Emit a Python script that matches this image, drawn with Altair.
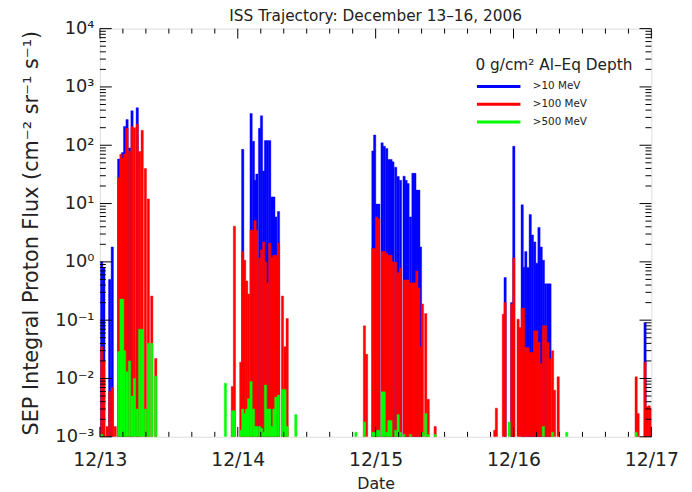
import altair as alt
import pandas as pd

# Hours since 2006-12-13 00:00 UT (bin centres)
hours = [
    0.31, 0.69, 1.26, 1.70, 2.15, 2.67, 3.27, 3.66, 3.96, 4.30, 4.73, 5.16, 5.59, 6.02, 6.50, 6.93, 7.36, 7.91, 8.43, 9.03, 9.72,
    21.85, 23.05, 23.42, 24.52, 24.86, 25.20, 25.55, 25.89, 26.32, 26.72, 27.01, 27.32, 27.79, 28.13, 28.51, 28.82, 29.17, 29.56, 29.94, 30.28, 30.62, 31.09, 31.78, 32.22, 32.60, 34.10,
    44.56, 46.05, 46.42, 47.52, 47.83, 48.17, 48.55, 49.12, 49.50, 49.93, 50.29, 50.67, 51.01, 51.49, 51.92, 52.33, 52.95, 53.30, 53.64, 54.07, 54.49, 54.83, 55.17, 55.52, 55.81, 56.15, 56.72, 57.15, 58.36,
    68.73, 69.02, 70.23, 70.54, 71.23, 71.69, 72.05, 72.80, 73.13, 73.51, 73.76, 74.14, 74.54, 74.91, 75.28, 75.69, 76.05, 76.43, 76.82, 77.20, 77.58, 77.98, 78.35, 78.80, 79.14, 79.78, 81.26,
    93.35, 93.69, 94.90, 95.21, 95.62, 95.96,
]
N = None
flux_10 = [
    1.0, 0.8, N, 0.5, 1.8, N, 58, N, 75, 210, 275, 90, 390, N, 440, N, N, N, N, N, N,
    N, N, N, N, 85, N, N, N, 350, 117, 25, 32, 195, 320, 36, 120, 120, 120, 13, 13, 5.9, 7.3, N, N, N, N,
    N, N, N, 80, 150, 9.8, 9.8, 110, 96, 88, 57, 57, 52, 42, 29, 25, 29.5, 25, 22, 5.9, 33, 33, 17, 17, 1.8, N, N, N, N,
    N, N, N, 0.54, N, 0.2, 96, N, N, 9.5, 0.81, 1.5, 0.8, 6.5, 2.9, 2.2, 0.95, 3.9, 1.8, 1.07, 0.42, 0.42, 0.42, N, N, N, N,
    N, N, 0.091, N, N, N,
]
flux_100 = [
    0.035, 0.02, 0.0015, 0.006, 0.007, 0.0015, 28, 70, 60, 71, 195, 78, 210, 200, 230, 78, 180, 40, 12, 0.26, 0.022,
    N, 0.0073, 4.1, 0.019, 1.5, 1.07, 0.47, 0.28, 3.5, 3.5, 5.1, 3.5, 1.17, 1.6, 2.2, 1.0, 0.44, 2.1, 1.2, 1.3, 1.3, 2.1, 0.26, 0.035, 0.107, N,
    N, 0.08, 0.026, 1.7, 1.7, 5.9, 5.5, 1.5, 1.5, 1.4, 1.3, 1.3, 1.0, 0.98, 0.65, 0.78, 0.49, 0.49, 0.49, 0.44, 0.44, 0.44, 0.69, 0.36, 0.035, 0.19, 0.13, 0.0044, 0.0015,
    0.0013, 0.0031, 0.126, 0.2, N, 0.19, 1.17, 0.104, 0.075, 0.16, 0.16, 0.034, 0.034, 0.028, 0.028, 0.066, 0.066, 0.042, 0.018, 0.08, 0.08, 0.042, 0.022, 0.03, 0.0063, 0.0107, N,
    0.0107, 0.0025, 0.019, 0.0033, 0.0034, 0.003,
]
flux_500 = [
    0.0011, N, N, N, N, N, 0.029, 0.23, 0.23, 0.03, 0.013, 0.02, 0.005, 0.01, 0.003, 0.07, 0.07, 0.003, 0.04, 0.04, 0.011,
    0.0083, 0.0028, 0.0028, 0.0013, 0.003, 0.0025, 0.003, 0.0045, 0.0089, 0.003, 0.0015, 0.0015, 0.0015, 0.0014, 0.0012, 0.0077, 0.003, 0.003, 0.0015, 0.003, 0.0048, 0.0052, 0.0065, 0.0065, 0.0015, 0.0024,
    0.0012, 0.0018, N, 0.0012, 0.0012, 0.0013, 0.0013, 0.0059, 0.0059, 0.0012, 0.0019, 0.0019, N, 0.0013, 0.0024, 0.0012, 0.0011, N, N, 0.0011, N, N, N, N, N, 0.0012, 0.0025, 0.0011, 0.0011,
    N, N, N, N, 0.0018, N, N, N, N, N, N, N, N, N, N, N, N, N, N, 0.0015, N, N, N, 0.0012, N, N, 0.0012,
    0.0012, N, N, N, N, N,
]

series_names = [">10 MeV", ">100 MeV", ">500 MeV"]
series_colors = ["#0000ff", "#ff0000", "#00ff00"]
day_labels = ["12/13", "12/14", "12/15", "12/16", "12/17"]
day_hours = [0, 24, 48, 72, 96]
y_major = [1e-3, 1e-2, 1e-1, 1e0, 1e1, 1e2, 1e3, 1e4]
y_minor = [m * 10.0 ** k for k in range(-3, 4) for m in range(2, 10)]
x_minor = [h for h in range(4, 96, 4) if h % 24 != 0]

half_w = 0.2
rows = []
for name, vals in zip(series_names, [flux_10, flux_100, flux_500]):
    for h, v in zip(hours, vals):
        if v is not None:
            rows.append({"series": name, "t0": h - half_w, "t1": h + half_w, "flux": v})
df = pd.DataFrame(rows)

W, H = 558, 413
FONT = "DejaVu Sans"
TXT = "#222222"
X_TITLE = "Date"
Y_TITLE = "SEP Integral Proton Flux (cm⁻² sr⁻¹ s⁻¹)"

xscale = alt.Scale(domain=[0, 96], nice=False, zero=False)
yscale = alt.Scale(type="log", domain=[1e-3, 1e4], nice=False, clamp=True)

label_js = "{" + ",".join(f"'{h}':'{l}'" for h, l in zip(day_hours, day_labels)) + "}"

x_axis = alt.Axis(values=day_hours, labelExpr=f"{label_js}[datum.value]", ticks=False, domain=False,
                  grid=False, labelFlush=False, labelFont=FONT, labelFontSize=19, labelColor=TXT,
                  labelPadding=14, titleFont=FONT, titleFontSize=16, titleFontWeight="normal",
                  titleColor=TXT, titlePadding=6)
y_axis = alt.Axis(values=y_major,
                  labelExpr="['10⁻³','10⁻²','10⁻¹','10⁰','10¹','10²','10³','10⁴'][round(log(datum.value)/LN10)+3]",
                  ticks=False, domain=False, grid=False, labelFlush=False, labelFont=FONT, labelFontSize=18,
                  labelColor=TXT, labelPadding=6, titleFont=FONT, titleFontSize=21, titleFontWeight="normal",
                  titleColor=TXT, titlePadding=14)

legend = alt.Legend(
    title="0 g/cm² Al–Eq Depth", orient="none", legendX=380, legendY=30,
    titleFont=FONT, titleFontSize=15.5, titleFontWeight="normal", titleColor=TXT, titlePadding=4,
    labelFont=FONT, labelFontSize=10.5, labelColor=TXT, labelOffset=11,
    symbolType="stroke", symbolSize=1936, symbolStrokeWidth=3, rowPadding=0, clipHeight=18,
)
color_scale = alt.Scale(domain=series_names, range=series_colors)

bars = alt.Chart(df).mark_bar(strokeWidth=0.4, clip=True).encode(
    x=alt.X("t0:Q", scale=xscale, title=X_TITLE, axis=x_axis),
    x2="t1:Q",
    y=alt.Y("flux:Q", scale=yscale, stack=None, title=Y_TITLE, axis=y_axis),
    y2=alt.datum(1e-3),
    fill=alt.Color("series:N", scale=color_scale, legend=legend, sort=series_names),
    stroke=alt.Color("series:N", scale=color_scale, legend=legend, sort=series_names),
    order=alt.Order("order:Q"),
).transform_calculate(order=f"indexof({series_names}, datum.series)")

ymaj_df = pd.DataFrame({"v": y_major})
ymin_df = pd.DataFrame({"v": y_minor})
xmaj_df = pd.DataFrame({"h": day_hours})
xmin_df = pd.DataFrame({"h": x_minor})


def yticks(d, length):
    base = alt.Chart(d).mark_rule(color="black", strokeWidth=1)
    yenc = alt.Y("v:Q", scale=yscale, title=Y_TITLE, axis=y_axis)
    left = base.encode(y=yenc, x=alt.value(0), x2=alt.value(length))
    right = base.encode(y=yenc, x=alt.value(W), x2=alt.value(W - length))
    return [left, right]


def xticks(d, length):
    base = alt.Chart(d).mark_rule(color="black", strokeWidth=1)
    xenc = alt.X("h:Q", scale=xscale, title=X_TITLE, axis=x_axis)
    bottom = base.encode(x=xenc, y=alt.value(H), y2=alt.value(H - length))
    top = base.encode(x=xenc, y=alt.value(0), y2=alt.value(length))
    return [bottom, top]


layers = [bars] + yticks(ymaj_df, 12) + yticks(ymin_df, 6) + xticks(xmaj_df, 10) + xticks(xmin_df, 5)

chart = alt.layer(*layers).properties(
    width=W, height=H,
    title=alt.TitleParams("ISS Trajectory: December 13–16, 2006", font=FONT, fontSize=15.5,
                          fontWeight="normal", color=TXT, offset=-5, anchor="middle"),
    autosize=alt.AutoSizeParams(type="none"),
    padding={"left": 93, "top": 18, "right": 33, "bottom": 53},
).configure_view(stroke="black", strokeWidth=1).configure(background="white")

chart.save("out.html", embed_options={"renderer": "svg", "actions": False})
